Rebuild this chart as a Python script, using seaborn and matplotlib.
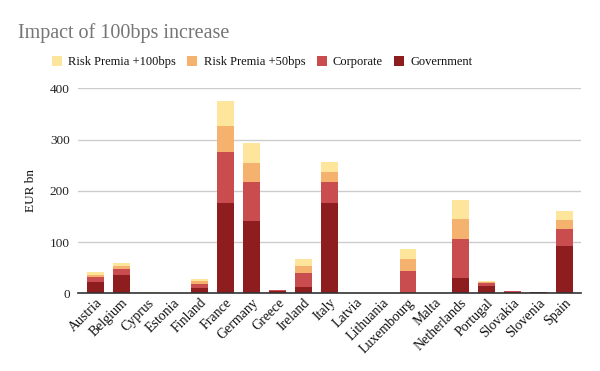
import matplotlib
matplotlib.use("Agg")
import matplotlib.pyplot as plt
import seaborn as sns
import numpy as np
import pandas as pd
from matplotlib.patches import Patch

countries = ["Austria", "Belgium", "Cyprus", "Estonia", "Finland", "France", "Germany",
             "Greece", "Ireland", "Italy", "Latvia", "Lithuania", "Luxembourg", "Malta",
             "Netherlands", "Portugal", "Slovakia", "Slovenia", "Spain"]
government = [22, 36, 0, 0, 10, 176, 141, 5, 12, 176, 0, 0, 0, 0, 30, 14, 3, 2, 92]
corporate = [10, 12, 0.5, 0, 8, 100, 76, 1, 27, 41, 0, 0, 43, 0, 76, 6, 1, 0.5, 33]
rp50 = [4, 6, 0.5, 0, 6, 51, 37, 0, 14, 19, 0, 0, 23, 0, 39, 2, 0, 0, 18]
rp100 = [6, 6, 1, 0, 4, 49, 39, 1, 13, 20, 0, 0, 21, 0, 37, 2, 0, 0, 18]
yticks = [0, 100, 200, 300, 400]

series_names = ["Risk Premia +100bps", "Risk Premia +50bps", "Corporate", "Government"]
colors = {"Government": "#8E1D1F", "Corporate": "#C94C4E",
          "Risk Premia +50bps": "#F5B26E", "Risk Premia +100bps": "#FDE59B"}

df = pd.DataFrame({"country": countries, "Government": government, "Corporate": corporate,
                   "Risk Premia +50bps": rp50, "Risk Premia +100bps": rp100})
stack_order = ["Government", "Corporate", "Risk Premia +50bps", "Risk Premia +100bps"]
cum = df[stack_order].cumsum(axis=1)

sns.set_theme(style="white")
plt.rcParams['font.family'] = ['Liberation Serif', 'DejaVu Serif']

fig = plt.figure(figsize=(6, 3.71), dpi=100)
ax = fig.add_axes([0.13, 0.2094, 0.838, 0.5526])

for name in reversed(stack_order):
    sns.barplot(x=df["country"], y=cum[name], color=colors[name], ax=ax,
                width=0.65, saturation=1, linewidth=0)

ax.set_ylim(0, 400)
ax.set_xlim(-0.66, len(countries) - 1 + 0.63)
ax.set_yticks(yticks)
ax.set_yticklabels([str(v) for v in yticks], fontsize=9.5, color="#222222")
ax.yaxis.grid(True, color="#CCCCCC", linewidth=1)
ax.set_axisbelow(True)
for s in ["left", "right", "top"]:
    ax.spines[s].set_visible(False)
ax.spines["bottom"].set_color("#333333")
ax.spines["bottom"].set_linewidth(1.2)
ax.tick_params(axis="y", length=3, color="#CCCCCC", pad=3)
ax.tick_params(axis="x", length=0, pad=2)
ax.set_xlabel("")
ax.set_ylabel("EUR bn", fontsize=9.5, color="#111111", labelpad=9)
ax.set_xticks(range(len(countries)))
ax.set_xticklabels(countries, rotation=45, ha="right", rotation_mode="anchor",
                   fontsize=10, color="#111111")

fig.text(18 / 600, 1 - 38 / 371, "Impact of 100bps increase", fontsize=14.5,
         color="#757575", va="baseline", ha="left")

handles = [Patch(facecolor=colors[n], edgecolor="none", label=n) for n in series_names]
fig.legend(handles=handles, loc="center", bbox_to_anchor=(0.437, 0.833), ncol=4,
           frameon=False, fontsize=9, handlelength=0.8, handleheight=0.9,
           handletextpad=0.5, columnspacing=0.9, labelcolor="#111111")

fig.savefig("out.png", dpi=100)
